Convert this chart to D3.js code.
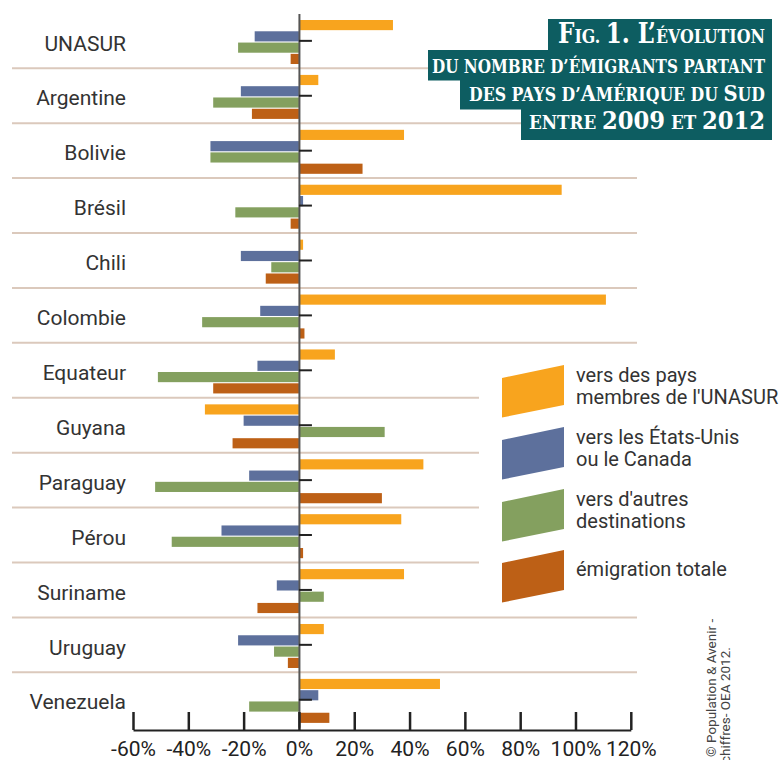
<!DOCTYPE html>
<html>
<head>
<meta charset="utf-8">
<script src="https://cdn.jsdelivr.net/npm/d3@7"></script>
<style>
  html, body { margin: 0; padding: 0; background: #fff; }
  svg { display: block; }
</style>
</head>
<body>
<svg id="chart" width="783" height="760"></svg>
<script>
// --- Données (en %) ---
const categories = ['UNASUR', 'Argentine', 'Bolivie', 'Brésil', 'Chili', 'Colombie', 'Equateur',
  'Guyana', 'Paraguay', 'Pérou', 'Suriname', 'Uruguay', 'Venezuela'];
const versUnasur = [34, 7, 38, 95, 1.5, 111, 13, -34, 45, 37, 38, 9, 51];
const versUsaCanada = [-16, -21, -32, 1.5, -21, -14, -15, -20, -18, -28, -8, -22, 7];
const versAutres = [-22, -31, -32, -23, -10, -35, -51, 31, -52, -46, 9, -9, -18];
const emigrationTotale = [-3, -17, 23, -3, -12, 2, -31, -24, 30, 1.5, -15, -4, 11];
const xTicks = [-60, -40, -20, 0, 20, 40, 60, 80, 100, 120];

const seriesKeys = ['unasur', 'usa', 'autres', 'total'];
const seriesValues = [versUnasur, versUsaCanada, versAutres, emigrationTotale];
const seriesColors = ['#f8a41e', '#5d709c', '#84a05f', '#bd6016'];
const legendLabels = [
  ['vers des pays', "membres de l'UNASUR"],
  ['vers les États-Unis', 'ou le Canada'],
  ["vers d'autres", 'destinations'],
  ['émigration totale']
];

const svg = d3.select('#chart');
const sans = 'Roboto, "Noto Sans", sans-serif';

// --- Échelles ---
const x = d3.scaleLinear().domain([-60, 120]).range([133, 630.8]);
const y = d3.scaleBand().domain(categories).range([13.4, 727.2]);
const ySub = d3.scaleBand().domain(seriesKeys).range([6.6, 50.6]).paddingInner(0.1);

// --- Séparateurs entre pays ---
svg.append('g')
  .selectAll('line')
  .data(categories.slice(1))
  .enter().append('line')
  .attr('x1', 12).attr('x2', 637)
  .attr('y1', d => y(d)).attr('y2', d => y(d))
  .attr('stroke', '#dbc9bc')
  .attr('stroke-width', 2);

// --- Barres ---
const rows = categories.map((c, i) => ({
  cat: c,
  vals: seriesKeys.map((k, j) => ({ key: k, value: seriesValues[j][i], color: seriesColors[j] }))
}));

const rowG = svg.append('g').selectAll('g')
  .data(rows)
  .enter().append('g')
  .attr('transform', d => `translate(0,${y(d.cat)})`);

rowG.selectAll('rect')
  .data(d => d.vals)
  .enter().append('rect')
  .attr('x', d => x(Math.min(0, d.value)))
  .attr('width', d => Math.abs(x(d.value) - x(0)))
  .attr('y', d => ySub(d.key))
  .attr('height', ySub.bandwidth())
  .attr('fill', d => d.color);

// --- Axe zéro + petites graduations ---
const zeroAxis = svg.append('g')
  .attr('transform', `translate(${x(0)},0)`)
  .call(d3.axisRight(y).tickSize(13).tickSizeOuter(0).tickFormat(''));
zeroAxis.select('.domain').attr('stroke', '#555').attr('stroke-width', 2);
zeroAxis.selectAll('.tick line')
  .attr('stroke', '#222').attr('stroke-width', 2);

// --- Noms des pays ---
const catAxis = svg.append('g')
  .attr('transform', 'translate(126,0)')
  .call(d3.axisLeft(y).tickSize(0).tickPadding(0));
catAxis.select('.domain').remove();
catAxis.selectAll('text')
  .attr('font-family', sans)
  .attr('font-size', 21)
  .attr('fill', '#333')
  .attr('dy', '0.46em');

// --- Axe horizontal ---
const xAxis = svg.append('g')
  .attr('transform', 'translate(0,730)')
  .call(d3.axisBottom(x).tickValues(xTicks).tickSize(-18).tickSizeOuter(0)
    .tickPadding(11).tickFormat(d => d + '%'));
xAxis.select('.domain').attr('stroke', '#222').attr('stroke-width', 2);
xAxis.selectAll('.tick line').attr('stroke', '#222').attr('stroke-width', 2.5);
xAxis.selectAll('text')
  .attr('font-family', sans)
  .attr('font-size', 21)
  .attr('fill', '#222');

// --- Titre ---
const titleColor = '#0d5d61';
const titleBoxes = [
  { x0: 548, y0: 19, y1: 50.5 },
  { x0: 428, y0: 50, y1: 80.5 },
  { x0: 460, y0: 80, y1: 109.5 },
  { x0: 521, y0: 109, y1: 140 }
];
svg.append('g').selectAll('rect')
  .data(titleBoxes)
  .enter().append('rect')
  .attr('x', d => d.x0).attr('y', d => d.y0)
  .attr('width', d => 772 - d.x0).attr('height', d => d.y1 - d.y0)
  .attr('fill', titleColor);

// chaque ligne : segments [texte, grand?]
const titleLines = [
  { y: 43, len: 207, big: 27, small: 18.5, parts: [['F', 1], ['IG. ', 0], ['1. L’', 1], ['ÉVOLUTION', 0]] },
  { y: 73, len: 333, big: 18.5, small: 18.5, parts: [['DU NOMBRE D’ÉMIGRANTS PARTANT', 0]] },
  { y: 101, len: 296, big: 23, small: 18.5, parts: [['DES PAYS D’', 0], ['A', 1], ['MÉRIQUE DU ', 0], ['S', 1], ['UD', 0]] },
  { y: 129, len: 236, big: 25, small: 18.5, parts: [['ENTRE ', 0], ['2009', 1], [' ET ', 0], ['2012', 1]] }
];
const titleText = svg.append('g').selectAll('text')
  .data(titleLines)
  .enter().append('text')
  .attr('x', 765)
  .attr('y', d => d.y)
  .attr('text-anchor', 'end')
  .attr('font-family', '"DejaVu Serif Condensed", "DejaVu Serif", serif')
  .attr('font-weight', 'bold')
  .attr('fill', '#fff')
  .attr('textLength', d => d.len)
  .attr('lengthAdjust', 'spacingAndGlyphs');
titleText.each(function (d) {
  d3.select(this).selectAll('tspan')
    .data(d.parts)
    .enter().append('tspan')
    .attr('font-size', p => p[1] ? d.big : d.small)
    .text(p => p[0]);
});

// --- Légende ---
svg.append('rect')
  .attr('x', 479).attr('y', 350).attr('width', 304).attr('height', 260)
  .attr('fill', '#fff');

const legendTop = [378, 440, 502, 563];
const legend = svg.append('g').selectAll('g')
  .data(seriesKeys)
  .enter().append('g')
  .attr('transform', (d, i) => `translate(0,${legendTop[i]})`);

legend.append('path')
  .attr('d', 'M502,0 L564,-13 L564,27 L502,39.5 Z')
  .attr('fill', (d, i) => seriesColors[i]);

legend.append('text')
  .attr('font-family', sans)
  .attr('font-size', 20)
  .attr('fill', '#333')
  .each(function (d, i) {
    const lines = legendLabels[i];
    d3.select(this).selectAll('tspan')
      .data(lines)
      .enter().append('tspan')
      .attr('x', 576)
      .attr('y', (l, k) => (lines.length === 1 ? 13 : 4 + k * 21.5))
      .text(l => l);
  });

// --- Source ---
const source = [
  { tx: 716, ty: 757, text: '© Population & Avenir -' },
  { tx: 730, ty: 763, text: 'chiffres- OEA 2012.' }
];
svg.append('g').selectAll('text')
  .data(source)
  .enter().append('text')
  .attr('transform', d => `translate(${d.tx},${d.ty}) rotate(-90)`)
  .attr('font-family', sans)
  .attr('font-size', 13.5)
  .attr('fill', '#444')
  .text(d => d.text);
</script>
</body>
</html>
